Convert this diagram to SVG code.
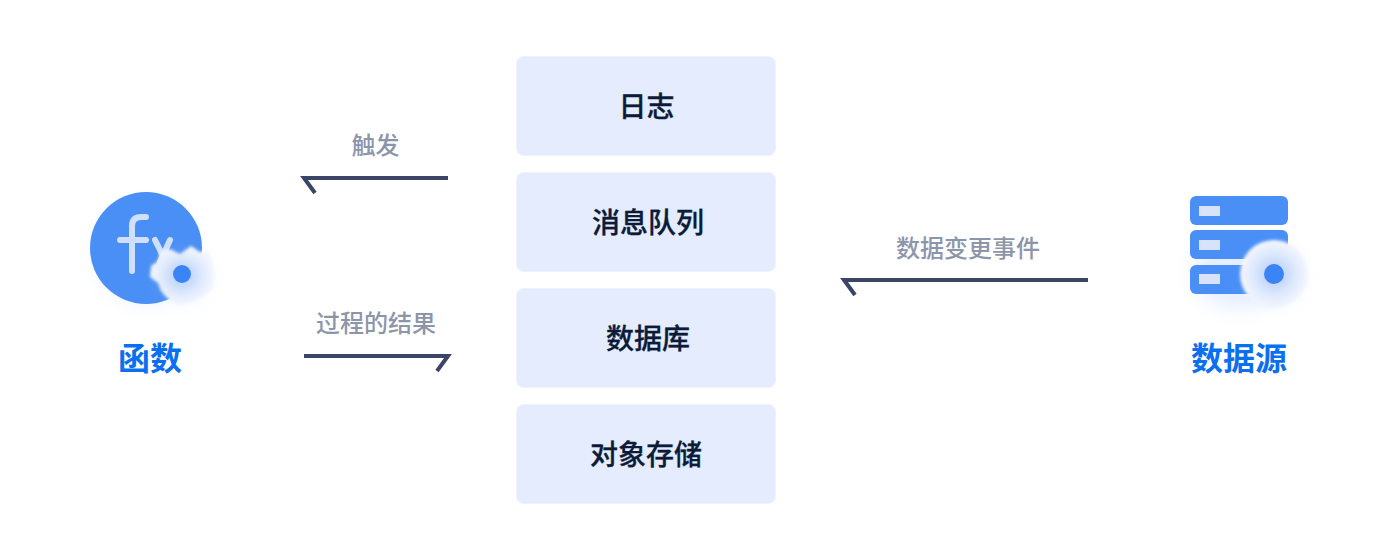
<svg xmlns="http://www.w3.org/2000/svg" width="1388" height="560" viewBox="0 0 1388 560">
<style>
text{text-anchor:middle;font-family:"Noto Sans CJK SC","Liberation Sans",sans-serif}
.box{fill:#e4ecfe;stroke:#edf2fe;stroke-width:1}
.bt{font-size:28px;font-weight:500;fill:#0c1b38;stroke:#0c1b38;stroke-width:.3}
.et{font-size:24px;fill:#8d95ab;font-weight:500}
.nt{font-size:32px;font-weight:700;fill:#0a6ff0}
.ar{fill:none;stroke:#3a4568;stroke-width:4}
.blue{fill:#4a8ff5}
.dot{fill:#3b84f6}
.sr{fill:#e4eafa;opacity:.92}
.fx{fill:none;stroke:#d0e0fb;stroke-linecap:round}
</style>
<defs>
<filter id="sh" x="-60%" y="-60%" width="220%" height="220%"><feGaussianBlur stdDeviation="10"/></filter>
<filter id="s2" x="-20%" y="-20%" width="140%" height="140%"><feGaussianBlur stdDeviation="1.400"/></filter>
<radialGradient id="gear"><stop offset="0.25" stop-color="#c2d7fb"/><stop offset="0.65" stop-color="#e0eafc"/><stop offset="1" stop-color="#f3f6fe"/></radialGradient>
</defs>
<rect width="1388" height="560" fill="#fff"/>
<g id="log"><rect class="box" x="516.500" y="56.500" width="259" height="99" rx="7"/><text class="bt" x="646.500" y="117">日志</text></g>
<g id="queue"><rect class="box" x="516.500" y="172.500" width="259" height="99" rx="7"/><text class="bt" x="648" y="233">消息队列</text></g>
<g id="database"><rect class="box" x="516.500" y="288.500" width="259" height="99" rx="7"/><text class="bt" x="648" y="349">数据库</text></g>
<g id="storage"><rect class="box" x="516.500" y="404.500" width="259" height="99" rx="7"/><text class="bt" x="646" y="465">对象存储</text></g>
<g id="connectors">
<path class="ar" d="M448 178H304L315 193"/>
<path class="ar" d="M304 356H448L437 371"/>
<path class="ar" d="M1088 280H844L855 295"/>
<text class="et" x="375.500" y="154">触发</text>
<text class="et" x="376" y="332">过程的结果</text>
<text class="et" x="968" y="257">数据变更事件</text>
</g>
<g id="function">
<circle cx="146" cy="254" r="46" fill="#a9c6fa" opacity=".4" filter="url(#sh)"/>
<circle class="blue" cx="146" cy="248" r="56"/>
<path class="fx" stroke-width="6" d="M146 217H141Q132 217 132 226V271M120 240H146"/>
<path class="fx" stroke-width="6" d="M155 240L164 258M170 240L160 262"/>
<circle cx="184" cy="276" r="22" fill="#b9d2fb" opacity=".3" filter="url(#sh)"/>
<path d="M170 249L180 254L191 246L200 252L208 251L213 262L214 288L203 297L190 303L178 305L167 298L161 291L158 283L150 277L151 266L158 261L160 252Z" fill="url(#gear)" filter="url(#s2)"/>
<circle class="dot" cx="182" cy="274" r="9"/>
<text class="nt" x="150" y="370">函数</text>
</g>
<g id="source">
<ellipse cx="1240" cy="272" rx="46" ry="36" fill="#b6cefa" opacity=".35" filter="url(#sh)"/>
<rect class="blue" x="1190" y="196" width="98" height="29" rx="6"/>
<rect class="blue" x="1190" y="230" width="98" height="29" rx="6"/>
<rect class="blue" x="1190" y="265" width="98" height="29" rx="6"/>
<rect class="sr" x="1199" y="206" width="21" height="10"/>
<rect class="sr" x="1199" y="240" width="21" height="10"/>
<rect class="sr" x="1199" y="274" width="21" height="10"/>
<circle cx="1276" cy="276" r="24" fill="#b9d2fb" opacity=".3" filter="url(#sh)"/>
<circle cx="1274" cy="274" r="34" fill="url(#gear)" filter="url(#s2)"/>
<circle class="dot" cx="1274" cy="274" r="10"/>
<text class="nt" x="1239" y="370">数据源</text>
</g>
</svg>
